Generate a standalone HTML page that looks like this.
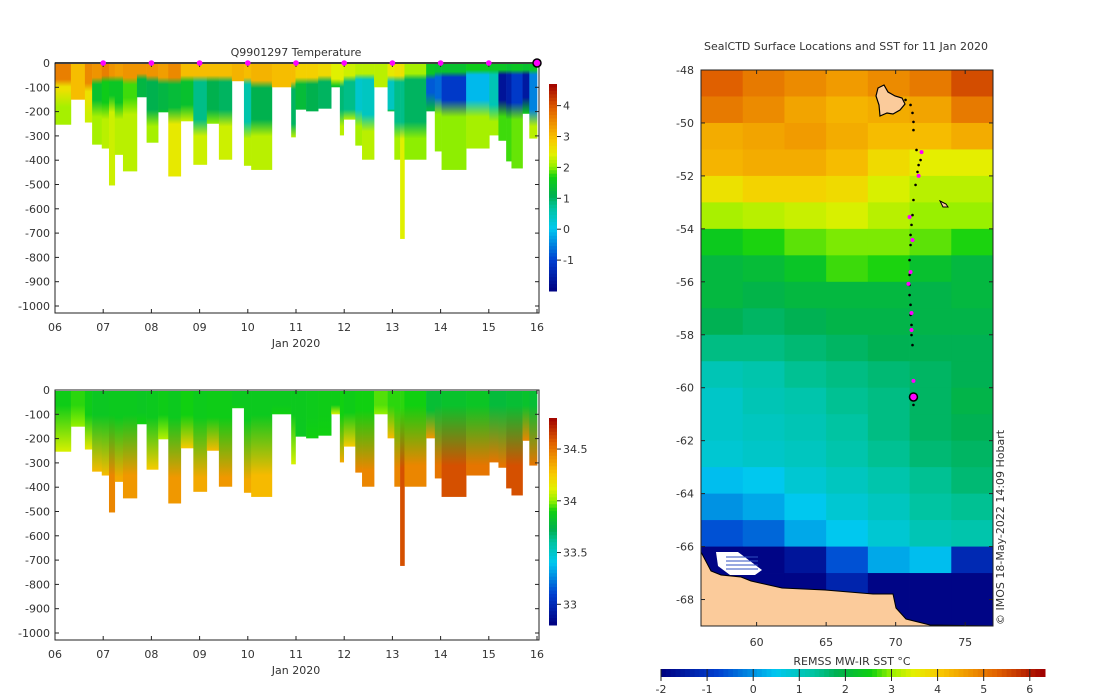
<!DOCTYPE html>
<html><head><meta charset="utf-8">
<style>
html,body{margin:0;padding:0;background:#fff;}
svg{display:block;font-family:"DejaVu Sans","Liberation Sans",sans-serif;}
text{fill:#333;font-size:11px;}
</style></head>
<body>
<svg id="svg" width="1100" height="696" viewBox="0 0 1100 696" xmlns="http://www.w3.org/2000/svg">
<defs id="defs"></defs>
<g id="sections"></g>
<g id="map"></g>
</svg>
<script>
// ---------- Section data ----------
const colEdges=[0,0.33,0.62,0.77,0.97,1.12,1.24,1.41,1.70,1.90,2.14,2.35,2.61,2.87,3.15,3.40,3.67,3.92,4.07,4.50,4.90,4.99,5.21,5.46,5.73,5.91,5.99,6.23,6.37,6.62,6.90,7.04,7.16,7.25,7.70,7.88,8.02,8.53,9.01,9.20,9.36,9.47,9.70,9.84,10.0];
const maxDepth=[254,151,245,336,352,504,378,446,141,328,203,467,240,419,250,398,75,423,440,100,306,192,199,188,100,298,233,340,398,100,199,398,724,398,199,364,440,352,298,320,405,434,209,311];
const tSurf=[3.6,3.0,3.5,3.4,3.6,3.4,3.3,3.4,3.4,3.4,3.3,3.5,3.0,3.0,3.0,3.0,3.1,3.0,3.1,3.0,3.0,2.8,2.8,2.7,2.4,2.4,2.3,2.2,2.2,2.2,2.5,2.6,2.6,2.1,1.5,1.4,1.4,1.6,1.5,1.5,1.4,1.5,1.4,1.5];
const tD1=[80,150,100,70,60,60,60,70,50,60,70,70,60,60,60,60,75,70,85,100,90,70,70,60,80,80,60,50,50,100,60,60,60,50,50,40,40,30,30,30,30,30,30,30];
const tMid=[2.6,3.0,2.6,1.4,1.6,1.5,1.5,1.8,1.2,1.1,1.2,1.3,1.4,0.8,1.1,1.0,3.1,0.6,1.1,3.0,1.0,1.3,1.1,1.0,1.5,0.9,0.8,0.3,0.4,2.2,0.4,0.8,0.8,1.0,-0.8,-0.7,-1.1,-0.1,0.5,-1.7,-1.5,-1.1,-1.6,-0.5];
const tD2=[120,150,150,160,170,140,170,150,140,200,200,190,180,240,200,200,75,250,240,100,260,192,199,188,100,200,200,200,220,100,199,250,250,250,130,150,160,160,180,160,170,170,150,200];
const tDeep=[2.1,3.0,2.3,2.1,2.2,2.3,2.2,2.2,1.2,2.1,1.5,2.5,2.3,2.3,2.0,2.3,3.1,2.2,2.2,3.0,2.2,1.3,1.1,1.0,1.5,2.2,2.2,2.1,2.2,2.2,1.4,2.1,2.4,2.0,1.2,2.0,2.0,2.1,2.1,1.8,1.8,1.9,1.6,2.2];
const sSurf=[33.88,33.92,33.88,33.85,33.85,33.86,33.86,33.86,33.85,33.86,33.88,33.86,33.9,33.87,33.88,33.88,33.86,33.86,33.86,33.86,33.86,33.86,33.87,33.88,33.88,33.9,33.88,33.9,33.9,33.95,33.92,33.92,33.92,33.9,33.8,33.8,33.82,33.84,33.78,33.78,33.8,33.8,33.82,33.8];
const sStart=[60,60,100,100,100,100,110,100,90,110,100,110,100,110,110,110,60,120,100,60,100,100,110,100,60,100,90,80,80,60,60,70,70,60,80,60,60,60,60,60,60,60,60,60];
const sBottom=[34.1,34.0,34.15,34.3,34.3,34.45,34.35,34.4,33.9,34.25,34.05,34.4,34.25,34.35,34.3,34.4,33.9,34.35,34.3,33.9,34.1,33.85,33.9,33.9,34.1,34.35,34.25,34.45,34.45,34.0,34.3,34.45,34.6,34.45,34.4,34.5,34.6,34.5,34.5,34.5,34.6,34.6,34.45,34.5];
const dayLabels=["06","07","08","09","10","11","12","13","14","15","16"];
const depthTicks=[0,-100,-200,-300,-400,-500,-600,-700,-800,-900,-1000];
const profileDays=[1,2,3,4,5,6,7,8,9];
const lastProfileDay=[10];
const tempTicks=[4,3,2,1,0,-1];
const salTicks=[34.5,34,33.5,33];

// ---------- Map data ----------
const sstLonEdges=[56,59,62,65,68,71,74,77];
const sstLatRows=[-48.5,-49.5,-50.5,-51.5,-52.5,-53.5,-54.5,-55.5,-56.5,-57.5,-58.5,-59.5,-60.5,-61.5,-62.5,-63.5,-64.5,-65.5,-66.5,-67.5,-68.5];
const sstValues=[
[5.3,5.0,4.8,4.6,4.8,5.0,5.5],
[5.0,4.8,4.5,4.3,4.4,4.5,5.0],
[4.4,4.5,4.6,4.4,4.2,4.2,4.4],
[4.3,4.4,4.4,4.2,3.8,3.5,3.5],
[3.7,3.9,3.9,3.8,3.4,3.2,3.2],
[3.1,3.2,3.3,3.4,3.2,3.0,3.0],
[2.4,2.6,2.8,2.9,2.9,2.8,2.6],
[2.0,2.1,2.3,2.7,2.6,2.2,2.0],
[2.0,1.9,2.0,2.0,2.0,1.9,2.0],
[1.8,1.7,1.8,1.9,1.9,1.9,1.9],
[1.5,1.5,1.6,1.7,1.8,1.8,1.8],
[1.1,1.2,1.4,1.5,1.6,1.7,1.8],
[0.9,1.1,1.2,1.4,1.5,1.7,1.9],
[0.9,1.0,1.1,1.3,1.5,1.7,1.8],
[0.8,0.9,1.0,1.2,1.4,1.6,1.7],
[0.4,0.5,0.8,1.0,1.2,1.4,1.6],
[0.0,0.2,0.5,0.8,1.0,1.3,1.4],
[-0.6,-0.4,0.2,0.5,0.8,1.1,1.2],
[-1.9,-1.9,-1.6,-0.6,0.2,0.4,-1.2],
[-1.9,-1.9,-1.9,-1.3,-1.9,-1.9,-1.9],
[-1.9,-1.9,-1.9,-1.9,-1.9,-1.9,-1.9]];
const trackLon=[70.71,71.07,71.21,71.28,71.28,71.50,71.79,71.65,71.57,71.43,71.28,71.21,71.14,71.07,71.07,71.0,71.0,71.0,71.0,71.07,71.07,71.14,71.14,71.21,71.28,71.28];
const trackLat=[-49.13,-49.32,-49.62,-49.96,-50.27,-51.02,-51.40,-51.59,-51.85,-52.34,-52.91,-53.48,-53.85,-54.23,-54.61,-55.18,-55.74,-56.12,-56.50,-56.87,-57.25,-57.63,-58.01,-58.39,-60.46,-60.65];
const surfLon=[71.86,71.65,71.0,71.21,71.07,70.92,71.14,71.14,71.28];
const surfLat=[-51.10,-52.0,-53.55,-54.42,-55.63,-56.08,-57.18,-57.82,-59.74];
const currentLon=[71.28], currentLat=[-60.35];
const lonTicks=[60,65,70,75];
const latTicks=[-48,-50,-52,-54,-56,-58,-60,-62,-64,-66,-68];
const sstTicks=[-2,-1,0,1,2,3,4,5,6];

// ---------- helpers ----------
const NS="http://www.w3.org/2000/svg";
function mk(tag,attrs,parent){const e=document.createElementNS(NS,tag);for(const k in attrs)e.setAttribute(k,attrs[k]);parent.appendChild(e);return e;}
const cmapStops=[[0,[0,0,128]],[0.15,[0,64,208]],[0.30,[0,200,240]],[0.40,[0,196,160]],[0.46,[0,176,80]],[0.55,[16,208,16]],[0.60,[150,240,0]],[0.66,[228,240,0]],[0.73,[248,200,0]],[0.80,[240,152,0]],[0.88,[224,96,0]],[1,[160,0,0]]];
function cmap(n){n=Math.max(0,Math.min(1,n));for(let i=1;i<cmapStops.length;i++){if(n<=cmapStops[i][0]){const a=cmapStops[i-1],b=cmapStops[i];const f=(n-a[0])/(b[0]-a[0]);const c=a[1].map((v,j)=>Math.round(v+(b[1][j]-v)*f));return `rgb(${c[0]},${c[1]},${c[2]})`;}}return "rgb(160,0,0)";}
const tNorm=t=>(t+2)/6.7, sNorm=s=>(s-32.8)/2.0, sstNorm=v=>(v+2)/8.3;
const svg=document.getElementById('svg'),defs=document.getElementById('defs');
const secG=document.getElementById('sections'),mapG=document.getElementById('map');
const X0=55,X1=537;
const xDay=d=>X0+d*(X1-X0)/10;

function panel(top,kind){
  const yD=d=>top+d*0.243;
  const g=mk('g',{},secG);
  
  
  for(let i=0;i<maxDepth.length;i++){
    const id=kind+'g'+i;
    const lg=mk('linearGradient',{id:id,x1:0,y1:0,x2:0,y2:1},defs);
    const D=maxDepth[i];const stops=[];
    if(kind==='temp'){
      stops.push([0,tSurf[i]],[tD1[i]*0.8,tSurf[i]],[tD1[i]+15,tMid[i]],[Math.max(tD1[i]+15,tD2[i]-10),tMid[i]],[tD2[i]+60,tDeep[i]],[D,tDeep[i]]);
    }else{
      stops.push([0,sSurf[i]],[sStart[i],sSurf[i]],[Math.min(D,sStart[i]+250),sBottom[i]],[D,sBottom[i]]);
    }
    let last=0;
    stops.forEach(s=>{let o=Math.max(last,Math.min(1,s[0]/D));last=o;
      const col=kind==='temp'?cmap(tNorm(s[1])):cmap(sNorm(s[1]));
      mk('stop',{offset:o,'stop-color':col},lg);});
    const x=xDay(colEdges[i]),w=xDay(colEdges[i+1])-x;
    const r=mk('rect',{x:x,y:top+1,width:w+0.3,height:yD(D)-top-1,fill:`url(#${id})`},g);
    
    
  }
  const f=mk('rect',{x:X0,y:top,width:X1+2-X0,height:250,fill:'none',stroke:'#222','stroke-width':1},g);
  
  
  depthTicks.forEach(v=>{const y=yD(-v);
    mk('line',{x1:X0,x2:X0+4,y1:y,y2:y,stroke:'#222'},g);mk('line',{x1:X1+2,x2:X1-2,y1:y,y2:y,stroke:'#222'},g);
    const t=mk('text',{x:X0-5,y:y+4,'text-anchor':'end'},g);t.textContent=v;
    
    });
  dayLabels.forEach((lab,i)=>{const x=xDay(i);
    mk('line',{x1:x,x2:x,y1:top+250,y2:top+246,stroke:'#222'},g);mk('line',{x1:x,x2:x,y1:top,y2:top+4,stroke:'#222'},g);
    const t=mk('text',{x:x,y:top+268,'text-anchor':'middle'},g);t.textContent=lab;
    
    });
  const xt=mk('text',{x:296,y:top+284,'text-anchor':'middle'},g);xt.textContent='Jan 2020';
  
  
  return g;
}
const tg=panel(63,'temp');
const sg=panel(390,'sal');
mk('line',{x1:X0,x2:X1+2,y1:63,y2:63,stroke:'#000','stroke-width':1.5},tg);
const tt=mk('text',{x:296,y:56,'text-anchor':'middle'},tg);tt.textContent='Q9901297  Temperature';


profileDays.forEach(d=>{const c=mk('circle',{cx:xDay(d),cy:63,r:2.8,fill:'#ff00ff'},tg);
  
  });
lastProfileDay.forEach(d=>{const c=mk('circle',{cx:xDay(d),cy:63,r:4,fill:'#ff00ff',stroke:'#000','stroke-width':1.5},tg);
  
  });

function vbar(top,bot,vmin,vmax,norm,ticks,name){
  const g=mk('g',{},secG);
  
  
  const n=60,h=(bot-top)/n;
  for(let i=0;i<n;i++){const v=vmax-(i+0.5)*(vmax-vmin)/n;mk('rect',{x:549,y:top+i*h,width:8,height:h+0.5,fill:cmap(norm(v))},g);}
  ticks.forEach(v=>{const y=bot-(v-vmin)/(vmax-vmin)*(bot-top);
    mk('line',{x1:557,x2:561,y1:y,y2:y,stroke:'#222'},g);
    const t=mk('text',{x:563,y:y+4},g);t.textContent=v;
    
    });
}
vbar(84,291,-2,4.7,tNorm,tempTicks,'temperature-colorbar');
vbar(418,625,32.8,34.8,sNorm,salTicks,'salinity-colorbar');

// ---------- map ----------
const MX0=701,MX1=993,MY0=70,MY1=626;
const lonX=l=>MX0+(l-56)*(MX1-MX0)/21;
const latY=l=>MY0+(-48-l)*(MY1-MY0)/21;
sstValues.forEach((row,r)=>{row.forEach((v,c)=>{
  const x=lonX(sstLonEdges[c]),y=latY(sstLatRows[r]+0.5);
  const cell=mk('rect',{x:x,y:y,width:lonX(sstLonEdges[c+1])-x+0.4,height:latY(sstLatRows[r]-0.5)-y+0.4,fill:cmap(sstNorm(v))},mapG);
  
  
});});
const land=mk('polygon',{points:'701,552 711,571 721,575 741,577 751,581 782,588 825,590 873,594 893,594 896,608 906,619 930,625 993,626 701,626',fill:'#fbcb9b',stroke:'#000','stroke-width':1},mapG);


const ice=mk('polygon',{points:'716,552 738,552 762,570 755,575 730,575 718,566',fill:'#fff'},mapG);


[557,561,565,569].forEach(y=>mk('line',{x1:726,x2:758,y1:y,y2:y,stroke:'#3050c0','stroke-width':1},mapG));
const ker=mk('polygon',{points:'878,88 884,85 888,92 895,96 902,98 905,104 900,110 893,114 887,113 880,116 879,105 876,96',fill:'#fbcb9b',stroke:'#000','stroke-width':1.2},mapG);


const heard=mk('polygon',{points:'940,201 946,204 948,207 943,207',fill:'#fbcb9b',stroke:'#000'},mapG);


trackLon.forEach((l,i)=>{const c=mk('circle',{cx:lonX(l),cy:latY(trackLat[i]),r:1.3,fill:'#000'},mapG);
  
  });
surfLon.forEach((l,i)=>{const c=mk('circle',{cx:lonX(l),cy:latY(surfLat[i]),r:2,fill:'#ff00ff'},mapG);
  
  });
currentLon.forEach((l,i)=>{const c=mk('circle',{cx:lonX(l),cy:latY(currentLat[i]),r:4,fill:'#ff00ff',stroke:'#000','stroke-width':1.5},mapG);
  
  });
const mf=mk('rect',{x:MX0,y:MY0,width:MX1-MX0,height:MY1-MY0,fill:'none',stroke:'#222'},mapG);


latTicks.forEach(v=>{const y=latY(v);
  mk('line',{x1:MX0,x2:MX0+4,y1:y,y2:y,stroke:'#222'},mapG);mk('line',{x1:MX1,x2:MX1-4,y1:y,y2:y,stroke:'#222'},mapG);
  const t=mk('text',{x:MX0-7,y:y+4,'text-anchor':'end'},mapG);t.textContent=v;
  
  });
lonTicks.forEach(v=>{const x=lonX(v);
  mk('line',{x1:x,x2:x,y1:MY1,y2:MY1-4,stroke:'#222'},mapG);mk('line',{x1:x,x2:x,y1:MY0,y2:MY0+4,stroke:'#222'},mapG);
  const t=mk('text',{x:x,y:MY1+20,'text-anchor':'middle'},mapG);t.textContent=v;
  
  });
const mt=mk('text',{x:846,y:50,'text-anchor':'middle'},mapG);mt.textContent='SealCTD Surface Locations and SST for 11 Jan 2020';


const cp=mk('text',{x:0,y:0,transform:'translate(1004,625) rotate(-90)','font-size':'10'},mapG);cp.textContent='© IMOS 18-May-2022 14:09 Hobart';


const CB0=661,CB1=1045,cbMin=-2,cbMax=6.33;
const cbx=v=>CB0+(v-cbMin)/(cbMax-cbMin)*(CB1-CB0);
for(let i=0;i<80;i++){const v=cbMin+(i+0.5)*(cbMax-cbMin)/80;const x=CB0+i*(CB1-CB0)/80;
  mk('rect',{x:x,y:669,width:(CB1-CB0)/80+0.5,height:8,fill:cmap(sstNorm(v))},mapG);}
sstTicks.forEach(v=>{const x=cbx(v);mk('line',{x1:x,x2:x,y1:669,y2:681,stroke:'#222'},mapG);
  const t=mk('text',{x:x,y:693,'text-anchor':'middle'},mapG);t.textContent=v;
  
  });
const cl=mk('text',{x:852,y:665,'text-anchor':'middle'},mapG);cl.textContent='REMSS MW-IR SST °C';


</script>
</body></html>
